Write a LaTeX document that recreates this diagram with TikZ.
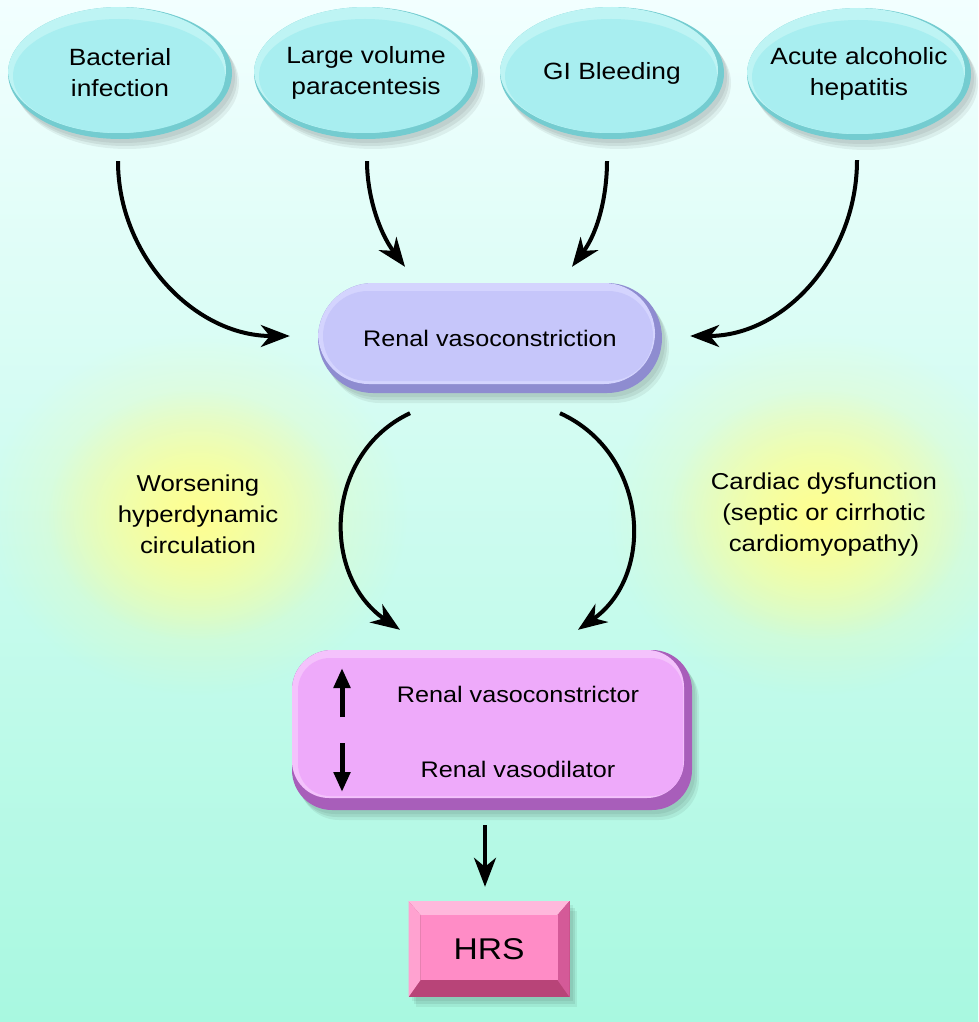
\documentclass[tikz,border=0pt]{standalone}
\usepackage{fontspec}
\setmainfont{Liberation Sans}[FakeStretch=1.12]
\usetikzlibrary{shapes.geometric,arrows.meta,shadows,fadings}
\tikzfading[name=glowfade, inner color=transparent!0, outer color=transparent!100]
\definecolor{bgtop}{HTML}{F2FFFF}
\definecolor{bgbot}{HTML}{A8F8E0}
\definecolor{cyanrim}{HTML}{74CCD0}
\definecolor{cyanhi}{HTML}{BEF4F4}
\definecolor{cyanmain}{HTML}{A8EEF0}
\definecolor{lavrim}{HTML}{8E8CD0}
\definecolor{lavhi}{HTML}{D4D4FE}
\definecolor{lavmain}{HTML}{C6C6FA}
\definecolor{pinkrim}{HTML}{A85EBA}
\definecolor{pinkhi}{HTML}{F4C2FC}
\definecolor{pinkmain}{HTML}{EEAAFA}
\definecolor{hrsmain}{HTML}{FF8CC6}
\definecolor{hrstop}{HTML}{FFB8DC}
\definecolor{hrsleft}{HTML}{FFA2D0}
\definecolor{hrsright}{HTML}{D45A98}
\definecolor{hrsbot}{HTML}{B84478}
\definecolor{glow}{HTML}{FFFF90}
\tikzset{
  softshadow/.style={
    general shadow={shadow xshift=3pt, shadow yshift=-4pt, fill=black, opacity=.06},
    general shadow={shadow xshift=5pt, shadow yshift=-7pt, fill=black, opacity=.07},
    general shadow={shadow xshift=7pt, shadow yshift=-10pt, fill=black, opacity=.06}},
  cause/.style={ellipse, minimum width=224pt, minimum height=132pt, inner xsep=-30pt, inner ysep=-8pt,
    align=center, font=\fontsize{23.5}{31}\selectfont, fill=cyanrim, softshadow,
    path picture={
      \fill[cyanhi] ([shift={(-3pt,3pt)}]path picture bounding box.center) ellipse (109pt and 63pt);
      \fill[cyanmain] ([shift={(-1pt,-3pt)}]path picture bounding box.center) ellipse (106pt and 57pt);
    }},
  pill/.style={rectangle, rounded corners=55pt, minimum width=344pt, minimum height=110pt,
    inner sep=0pt, font=\fontsize{22.5}{28}\selectfont, fill=lavrim, softshadow,
    path picture={
      \fill[lavhi, rounded corners=51pt] (path picture bounding box.north west)
        rectangle ([shift={(-7pt,9pt)}]path picture bounding box.south east);
      \fill[lavmain, rounded corners=45pt] ([shift={(5pt,-8pt)}]path picture bounding box.north west)
        rectangle ([shift={(-9pt,12pt)}]path picture bounding box.south east);
    }},
  effectbox/.style={rectangle, rounded corners=40pt, minimum width=400pt, minimum height=160pt,
    inner sep=0pt, fill=pinkrim, softshadow,
    path picture={
      \fill[pinkhi, rounded corners=37pt] (path picture bounding box.north west)
        rectangle ([shift={(-8pt,12pt)}]path picture bounding box.south east);
      \fill[pinkmain, rounded corners=32pt] ([shift={(6pt,-8pt)}]path picture bounding box.north west)
        rectangle ([shift={(-9pt,14pt)}]path picture bounding box.south east);
    }},
  hrsbox/.style={rectangle, minimum width=161pt, minimum height=96pt, inner sep=0pt,
    font=\fontsize{30}{36}\selectfont, fill=hrsbot, softshadow,
    path picture={
      \fill[hrstop] (path picture bounding box.north west) -- (path picture bounding box.north east)
        -- ([shift={(-12pt,-14pt)}]path picture bounding box.north east)
        -- ([shift={(12pt,-14pt)}]path picture bounding box.north west) -- cycle;
      \fill[hrsleft] (path picture bounding box.north west)
        -- ([shift={(12pt,-14pt)}]path picture bounding box.north west)
        -- ([shift={(12pt,17pt)}]path picture bounding box.south west)
        -- (path picture bounding box.south west) -- cycle;
      \fill[hrsright] (path picture bounding box.north east)
        -- (path picture bounding box.south east)
        -- ([shift={(-12pt,17pt)}]path picture bounding box.south east)
        -- ([shift={(-12pt,-14pt)}]path picture bounding box.north east) -- cycle;
      \fill[hrsmain] ([shift={(12pt,-14pt)}]path picture bounding box.north west)
        rectangle ([shift={(-12pt,17pt)}]path picture bounding box.south east);
    }},
  boxtext/.style={anchor=base, inner sep=0pt, font=\fontsize{22.5}{28}\selectfont},
  sidetext/.style={align=center, inner sep=0pt, font=\fontsize{23}{31}\selectfont},
  conn/.style={line width=4pt, -{Stealth[length=29pt,width=22pt,inset=9pt]}},
  updown/.style={line width=5pt, -{Triangle[length=20pt,width=16pt]}}
}
\begin{document}
\begin{tikzpicture}[x=1pt,y=-1pt]
\useasboundingbox (0,0) rectangle (978,1022);
\shade[top color=bgtop, bottom color=bgbot] (0,0) rectangle (978,1022);
% glows
\fill[glow, path fading=glowfade, opacity=.6] (197,515) ellipse (210 and 180);
\fill[glow, path fading=glowfade] (197,515) ellipse (150 and 125);
\fill[glow, path fading=glowfade, opacity=.6] (818,515) ellipse (210 and 180);
\fill[glow, path fading=glowfade] (818,515) ellipse (150 and 125);
% causes
\node[cause] (e1) at (120,73) {Bacterial\\infection};
\node[cause] (e2) at (366,73) {Large volume\\paracentesis};
\node[cause] (e3) at (612,73) {GI Bleeding};
\node[cause] (e4) at (859,74) {Acute alcoholic\\hepatitis};
% central
\node[pill] (rv) at (490,338) {Renal vasoconstriction};
% side texts
\node[sidetext] (w) at (198,514) {Worsening\\hyperdynamic\\circulation};
\node[sidetext] (c) at (824,515) {Cardiac dysfunction\\(septic or cirrhotic\\cardiomyopathy)};
% effect box
\node[effectbox] (b2) at (492,730) {};
\node[boxtext] (t1) at (518,702) {Renal vasoconstrictor};
\node[boxtext] (t2) at (518,777) {Renal vasodilator};
\coordinate (u1) at ([shift={(-150,-13)}]b2.center);
\coordinate (u2) at ([shift={(-150,-62)}]b2.center);
\coordinate (d1) at ([shift={(-150,13)}]b2.center);
\coordinate (d2) at ([shift={(-150,62)}]b2.center);
\draw[updown] (u1) -- (u2);
\draw[updown] (d1) -- (d2);
% HRS
\node[hrsbox] (hrs) at (489,949) {HRS};
% connectors
\draw[conn] ([shift={(-2,22)}]e1.south) .. controls +(0,95) and +(-95,0) .. ([shift={(-28,-2)}]rv.west);
\draw[conn] ([shift={(1,22)}]e2.south) .. controls +(0,32) and +(-27,-36) .. ([shift={(-85,-16)}]rv.north);
\draw[conn] ([shift={(-5,22)}]e3.south) .. controls +(0,32) and +(27,-36) .. ([shift={(82,-16)}]rv.north);
\draw[conn] ([shift={(-2,20)}]e4.south) .. controls +(0,95) and +(95,0) .. ([shift={(28,-2)}]rv.east);
\draw[conn] ([shift={(-80,20)}]rv.south) .. controls +(-85,40) and +(-80,-55) .. ([shift={(-92,-20)}]b2.north);
\draw[conn] ([shift={(70,20)}]rv.south) .. controls +(88,40) and +(78,-55) .. ([shift={(86,-20)}]b2.north);
\draw[conn] ([shift={(-7,15)}]b2.south) -- ([shift={(-4,-14)}]hrs.north);
\end{tikzpicture}
\end{document}
